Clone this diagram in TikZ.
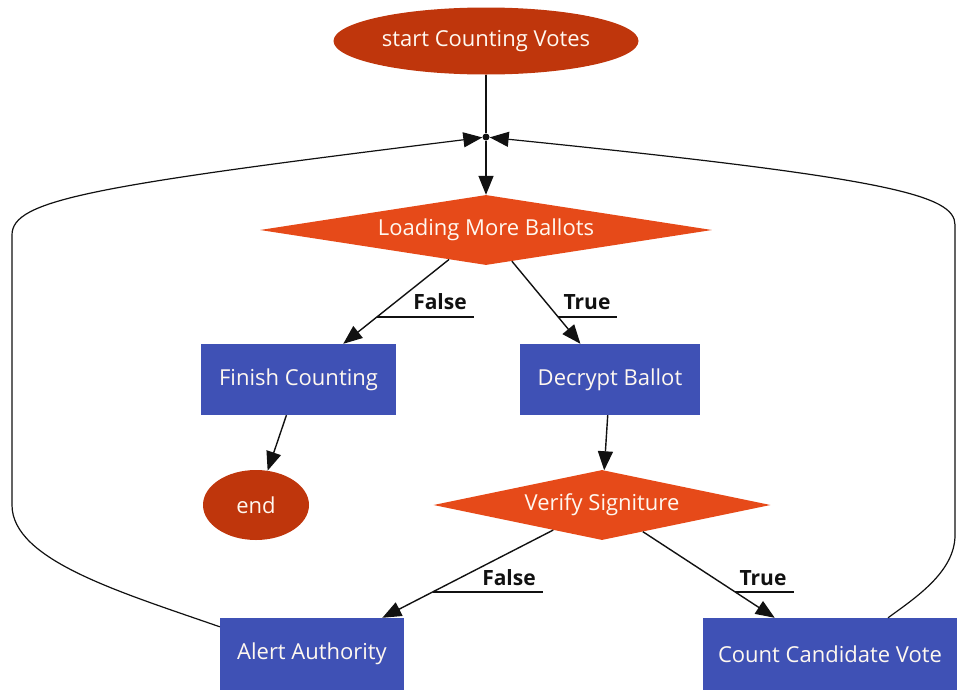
\documentclass[tikz,border=0pt]{standalone}
\usepackage{fontspec}
\setmainfont{Open Sans}
\usetikzlibrary{shapes.geometric,arrows.meta}
\definecolor{termred}{HTML}{BF360C}
\definecolor{decorange}{HTML}{E64A19}
\definecolor{procblue}{HTML}{3F51B5}
\definecolor{ink}{HTML}{111111}
\definecolor{paletext}{HTML}{FFF8F0}
\begin{document}
\begin{tikzpicture}[x=1pt,y=-1pt,
  nodetext/.style={font=\fontsize{22}{26}\selectfont, text=paletext},
  terminal/.style={nodetext, ellipse, fill=termred, inner sep=0pt},
  decision/.style={nodetext, diamond, fill=decorange, inner sep=0pt, aspect=5, minimum height=70pt},
  process/.style={nodetext, rectangle, fill=procblue, inner sep=0pt, minimum height=71pt},
  wire/.style={draw=ink, line width=1.4pt},
  flow/.style={wire, -{Triangle[length=19pt,width=15pt]}},
  loopflow/.style={draw=ink, line width=1.2pt, -{Triangle[length=19pt,width=15pt]}},
  edgelabel/.style={font=\fontsize{21}{24}\selectfont\bfseries, text=ink, inner sep=1pt},
  uline/.style={draw=ink, line width=1.2pt}]
\useasboundingbox (0,0) rectangle (958,691);

% nodes
\node[terminal, minimum width=305pt, minimum height=67pt] (start) at (486,41) {start Counting Votes};
\node[circle, fill=ink, inner sep=0pt, minimum size=7pt] (junc) at (486,137) {};
\node[decision, minimum width=452pt] (loading) at (486,230) {Loading More Ballots};
\node[process, minimum width=195pt] (finish) at (298.5,379.5) {Finish Counting};
\node[process, minimum width=180pt] (decrypt) at (610,379.5) {Decrypt Ballot};
\node[terminal, minimum width=106pt, minimum height=70pt] (end) at (256,505) {end};
\node[decision, minimum width=337pt] (verify) at (602,505) {Verify Signiture};
\node[process, minimum width=184pt, minimum height=72pt] (alert) at (312,654) {Alert Authority};
\node[process, minimum width=254pt, minimum height=72pt] (count) at (830,654) {Count Candidate Vote};

% main flow
\draw[wire] (start) -- (junc);
\draw[flow] (junc) -- (loading);
\draw[flow] (loading) -- (finish);
\draw[flow] (loading) -- (decrypt);
\draw[flow] (finish) -- (end);
\draw[flow] (decrypt) -- (verify);
\draw[flow] (verify) -- (alert);
\draw[flow] (verify) -- (count);

% loops back to the merge point
\draw[loopflow] ([yshift=-9pt]alert.north west) .. controls (120,592) and (12,560) .. (12,505)
  -- (12,235) .. controls (12,200) and (90,186) .. (junc);
\draw[loopflow] ([xshift=58pt]count.north) .. controls (915,598) and (955,572) .. (955,535)
  -- (955,225) .. controls (955,195) and (890,178) .. (junc);

% edge labels with underlines
\node[edgelabel] (lf1) at (440,302) {False};
\coordinate (u1) at (intersection of loading.center--finish.center and 0,317--958,317);
\draw[uline] (u1) -- ([xshift=6pt]u1 -| lf1.east);

\node[edgelabel] (lt1) at (587,302) {True};
\coordinate (u2) at (intersection of loading.center--decrypt.center and 0,317--958,317);
\draw[uline] (u2) -- ([xshift=5pt]u2 -| lt1.east);

\node[edgelabel] (lf2) at (509,578) {False};
\coordinate (u3) at (intersection of verify.center--alert.center and 0,592--958,592);
\draw[uline] (u3) -- ([xshift=6pt]u3 -| lf2.east);

\node[edgelabel] (lt2) at (763,578) {True};
\coordinate (u4) at (intersection of verify.center--count.center and 0,592--958,592);
\draw[uline] (u4) -- ([xshift=6pt]u4 -| lt2.east);
\end{tikzpicture}
\end{document}
